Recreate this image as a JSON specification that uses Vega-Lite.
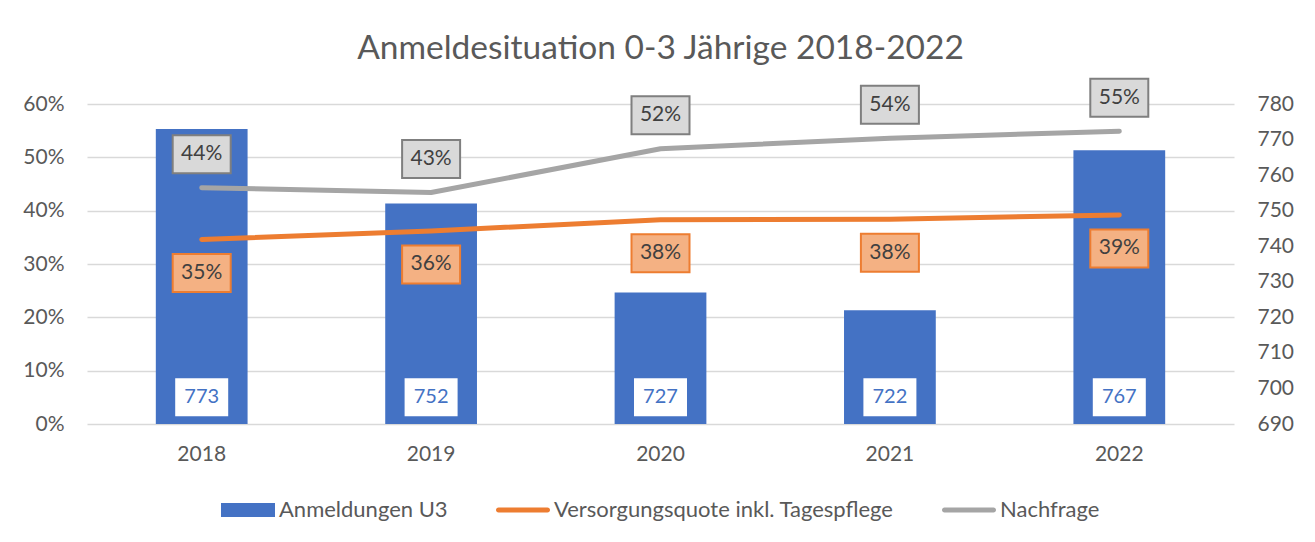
{
  "$schema": "https://vega.github.io/schema/vega-lite/v6.json",
  "width": 1147,
  "height": 320,
  "autosize": "none",
  "padding": {"left": 87, "top": 104, "right": 81, "bottom": 118},
  "background": "white",
  "config": {
    "font": "Lato",
    "view": {"stroke": null},
    "axis": {"labelFont": "Lato", "labelFontSize": 21, "labelColor": "#595959", "ticks": false, "domain": false, "title": null, "gridColor": "#d9d9d9", "gridWidth": 1.5, "labelOverlap": false}
  },
  "title": {"text": "Anmeldesituation 0-3 Jährige 2018-2022", "fontSize": 33.5, "fontWeight": "normal", "color": "#595959", "font": "Lato", "offset": 8, "anchor": "middle"},
  "data": {
    "values": [
      {"Jahr": "2018", "Anmeldungen": 773, "Versorgung": 0.346, "Nachfrage": 0.443},
      {"Jahr": "2019", "Anmeldungen": 752, "Versorgung": 0.362, "Nachfrage": 0.434},
      {"Jahr": "2020", "Anmeldungen": 727, "Versorgung": 0.383, "Nachfrage": 0.516},
      {"Jahr": "2021", "Anmeldungen": 722, "Versorgung": 0.384, "Nachfrage": 0.536},
      {"Jahr": "2022", "Anmeldungen": 767, "Versorgung": 0.392, "Nachfrage": 0.549}
    ]
  },
  "encoding": {
    "x": {"field": "Jahr", "type": "nominal", "scale": {"paddingInner": 0.6, "paddingOuter": 0.3}, "axis": {"labelAngle": 0, "labelPadding": 19, "grid": false}}
  },
  "layer": [
    {
      "layer": [
        {
          "mark": {"type": "bar", "color": "#4472c4"},
          "encoding": {
            "y": {"field": "Anmeldungen", "type": "quantitative", "scale": {"domain": [690, 780], "zero": false, "nice": false}, "axis": {"orient": "right", "grid": false, "values": [690, 700, 710, 720, 730, 740, 750, 760, 770, 780], "labelPadding": 23, "labelOverlap": false}},
            "y2": {"datum": 690},
            "color": {"datum": "Anmeldungen U3", "type": "nominal", "scale": {"domain": ["Anmeldungen U3", "Versorgungsquote inkl. Tagespflege", "Nachfrage"], "range": ["#4472c4", "#ed7d31", "#a5a5a5"]},
              "legend": {
                "orient": "none", "legendX": 134, "legendY": 379, "direction": "horizontal", "title": null,
                "labelFontSize": 22, "labelColor": "#595959", "labelFont": "Lato", "labelOffset": 4, "columnPadding": 48, "labelLimit": 0,
                "symbolSize": 2916, "symbolStrokeWidth": 0,
                "encode": {"symbols": {"update": {
                  "shape": {"signal": "datum.value == 'Anmeldungen U3' ? 'M-1,-0.26H1V0.26H-1Z' : 'M-0.907,-0.093H0.907A0.093,0.093 0 0 1 0.907,0.093H-0.907A0.093,0.093 0 0 1 -0.907,-0.093Z'"},
                  "fill": {"signal": "scale('color', datum.value)"},
                  "fillOpacity": {"value": 1},
                  "strokeWidth": {"value": 0}
                }}}
              }
            }
          }
        },
        {
          "mark": {"type": "point", "shape": "M-1,-0.717H1V0.717H-1Z", "size": 2809, "filled": true, "fill": "white", "strokeWidth": 0, "opacity": 1},
          "encoding": {"y": {"datum": 697.5, "type": "quantitative", "axis": {"orient": "right", "grid": false, "values": [690, 700, 710, 720, 730, 740, 750, 760, 770, 780], "labelPadding": 23, "labelOverlap": false}}}
        },
        {
          "mark": {"type": "text", "fontSize": 20, "color": "#4472c4", "font": "Lato", "baseline": "middle", "align": "center"},
          "encoding": {"y": {"datum": 697.5, "type": "quantitative", "axis": {"orient": "right", "grid": false, "values": [690, 700, 710, 720, 730, 740, 750, 760, 770, 780], "labelPadding": 23, "labelOverlap": false}}, "text": {"field": "Anmeldungen", "type": "quantitative"}}
        }
      ]
    },
    {
      "layer": [
        {
          "mark": {"type": "line", "strokeWidth": 5, "strokeCap": "round", "strokeJoin": "round"},
          "encoding": {
            "y": {"field": "Versorgung", "type": "quantitative", "scale": {"domain": [0, 0.6], "nice": false}, "axis": {"orient": "left", "grid": true, "format": ".0%", "values": [0, 0.1, 0.2, 0.3, 0.4, 0.5, 0.6], "labelPadding": 23, "labelOverlap": false}},
            "color": {"datum": "Versorgungsquote inkl. Tagespflege", "type": "nominal"}
          }
        },
        {
          "mark": {"type": "line", "strokeWidth": 5, "strokeCap": "round", "strokeJoin": "round"},
          "encoding": {
            "y": {"field": "Nachfrage", "type": "quantitative"},
            "color": {"datum": "Nachfrage", "type": "nominal"}
          }
        },
        {
          "mark": {"type": "point", "shape": "M-1,-0.655H1V0.655H-1Z", "size": 3364, "filled": true, "fill": "#f4b183", "stroke": "#ed7d31", "strokeWidth": 2, "opacity": 1, "yOffset": 33.5},
          "encoding": {"y": {"field": "Versorgung", "type": "quantitative"}}
        },
        {
          "mark": {"type": "text", "fontSize": 21, "color": "#404040", "font": "Lato", "baseline": "middle", "align": "center", "yOffset": 33.5},
          "encoding": {"y": {"field": "Versorgung", "type": "quantitative"}, "text": {"field": "Versorgung", "type": "quantitative", "format": ".0%"}}
        },
        {
          "mark": {"type": "point", "shape": "M-1,-0.655H1V0.655H-1Z", "size": 3364, "filled": true, "fill": "#d9d9d9", "stroke": "#7f7f7f", "strokeWidth": 2, "opacity": 1, "yOffset": -33.5},
          "encoding": {"y": {"field": "Nachfrage", "type": "quantitative"}}
        },
        {
          "mark": {"type": "text", "fontSize": 21, "color": "#404040", "font": "Lato", "baseline": "middle", "align": "center", "yOffset": -33.5},
          "encoding": {"y": {"field": "Nachfrage", "type": "quantitative"}, "text": {"field": "Nachfrage", "type": "quantitative", "format": ".0%"}}
        }
      ]
    }
  ],
  "resolve": {"scale": {"y": "independent"}}
}
